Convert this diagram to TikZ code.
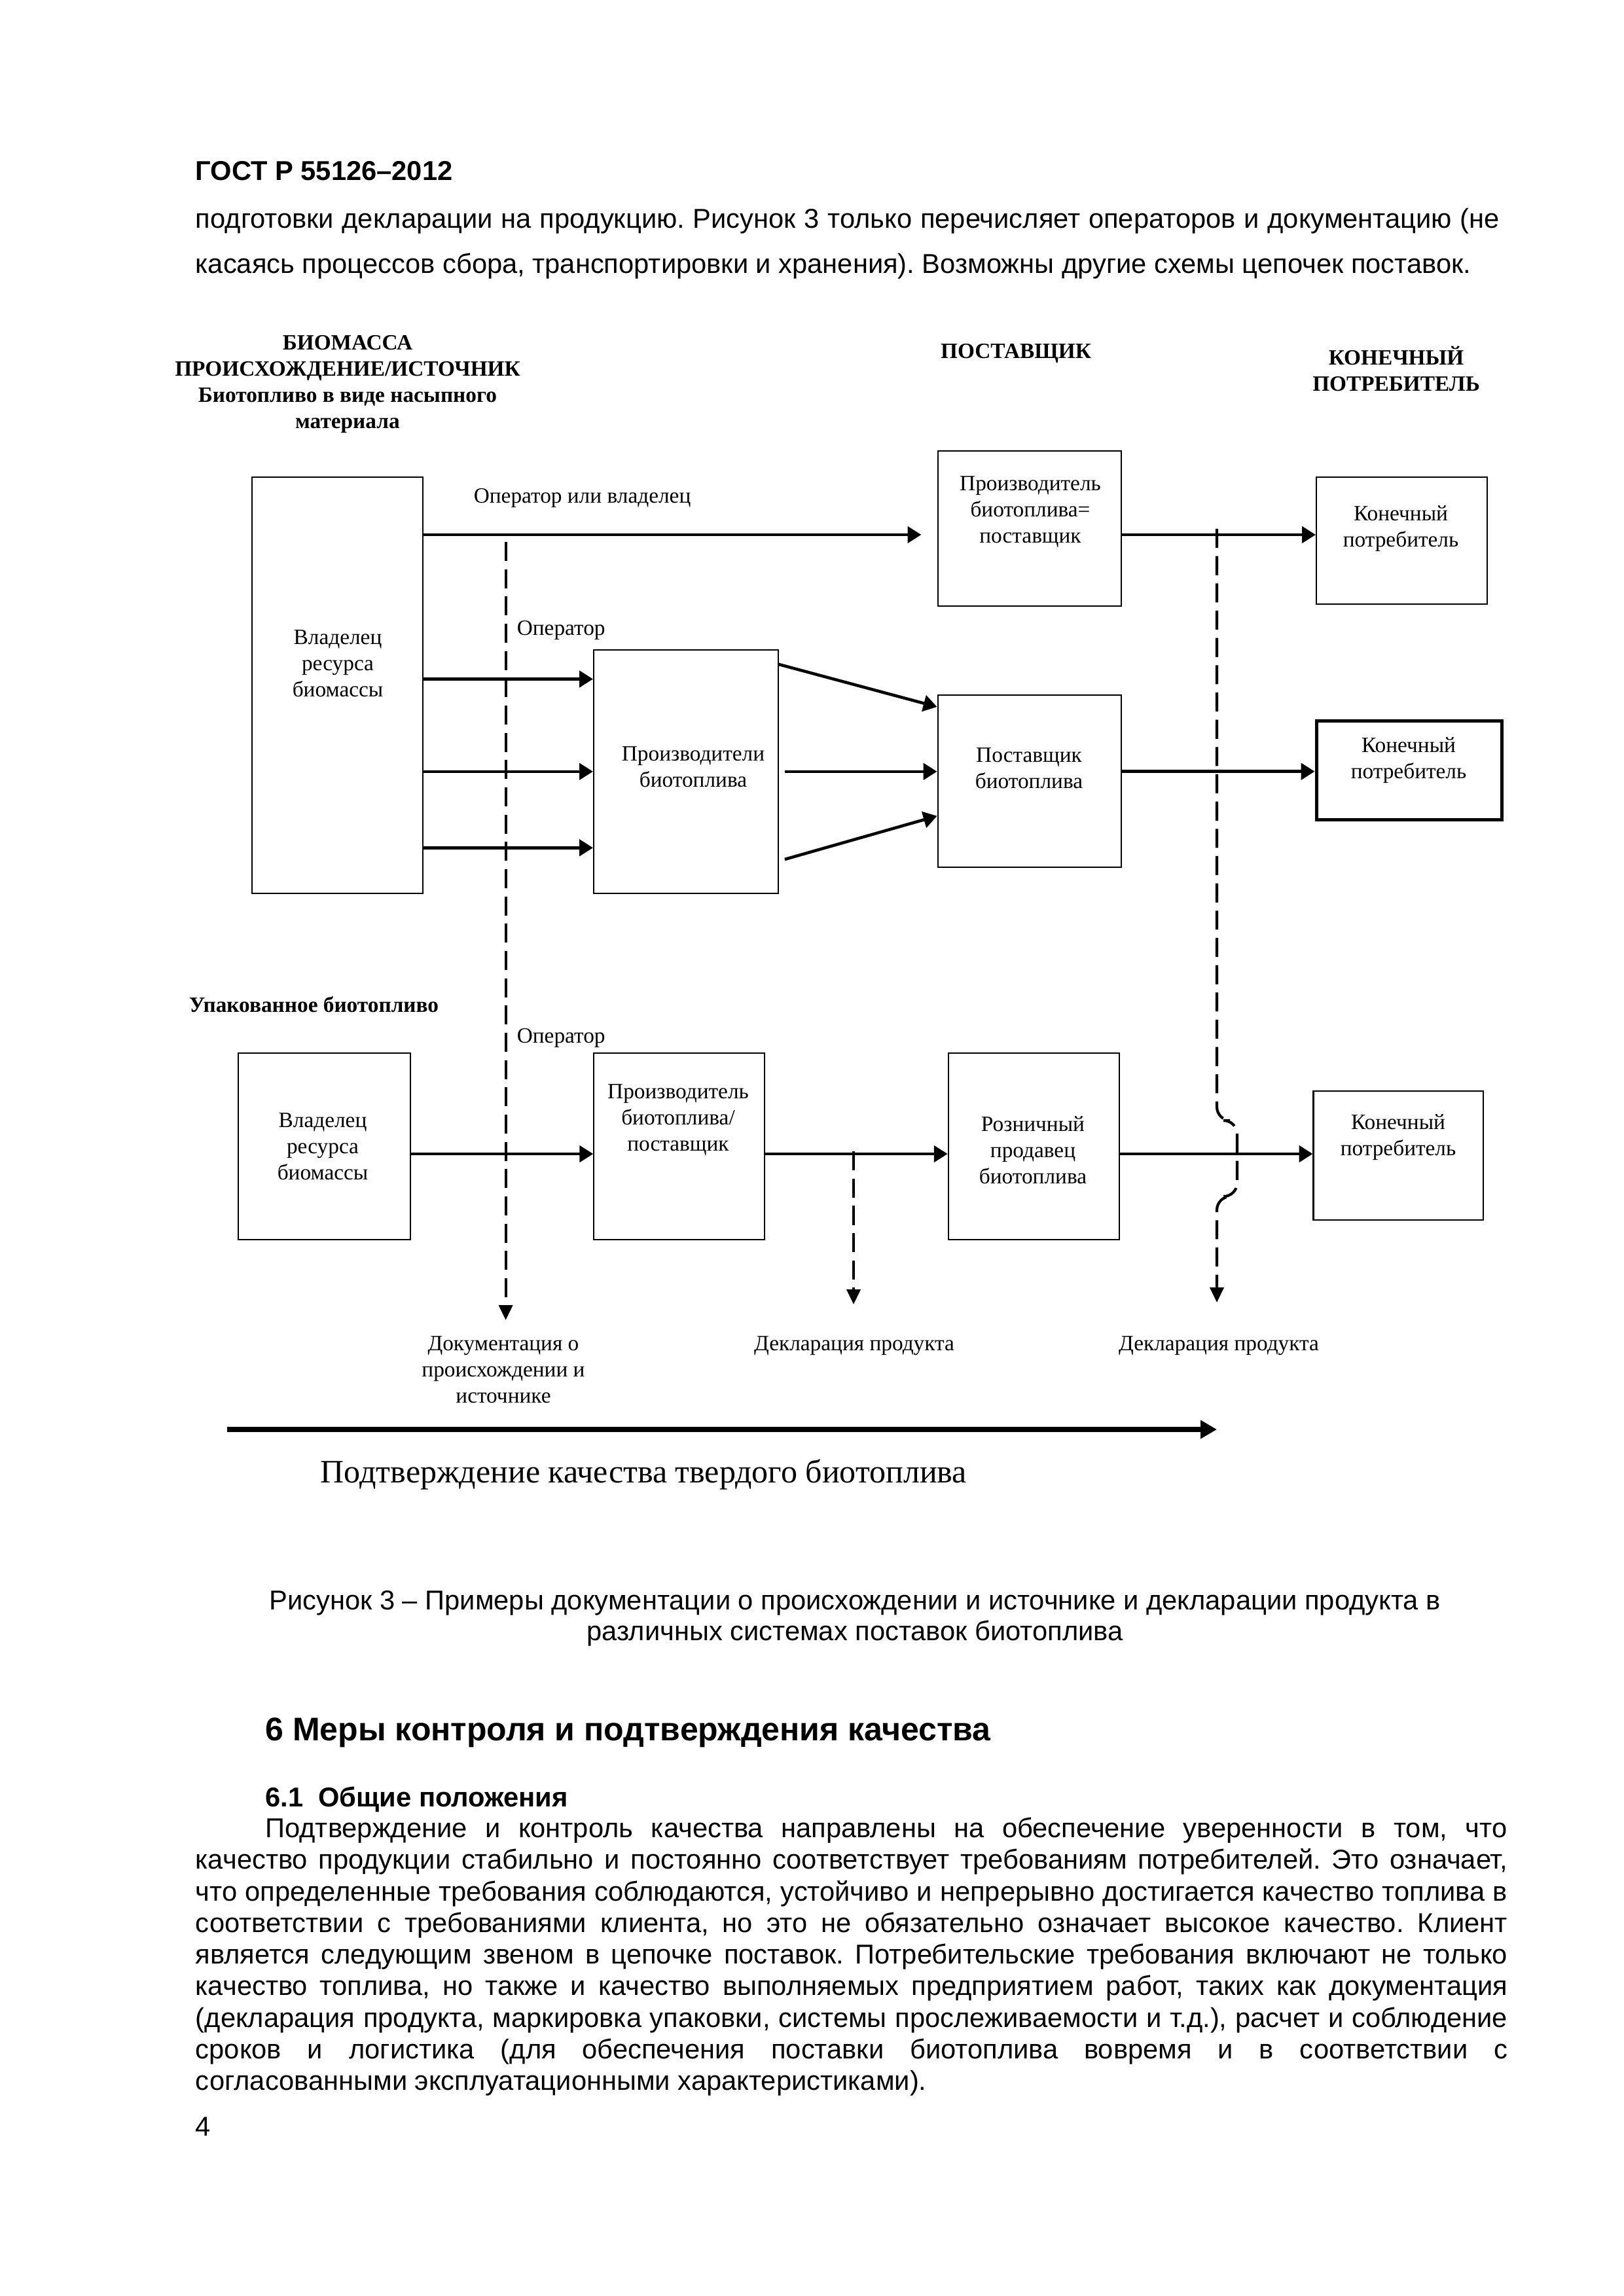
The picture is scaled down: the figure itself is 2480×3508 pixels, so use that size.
\documentclass[tikz,border=0pt]{standalone}
\usepackage{fontspec}
\setmainfont{Liberation Serif}
\newfontfamily\arialfont{Liberation Sans}
\usetikzlibrary{fit,arrows.meta}
\frenchspacing
\newcommand{\dfont}{\fontsize{8}{9.6}\selectfont}
\newcommand{\bfont}{\arialfont\fontsize{10}{11.5}\selectfont}
\tikzstyle{block}=[draw,line width=0.5pt,inner sep=0pt]
\tikzstyle{boxtext}=[font=\dfont,align=center,inner sep=0pt]
\tikzstyle{head}=[font=\dfont\bfseries,align=center,inner sep=0pt]
\tikzstyle{lbl}=[font=\dfont,anchor=base west,inner sep=0pt]
\tikzstyle{flow}=[line width=1.1pt,-{Triangle[length=5pt,width=6pt]}]
\tikzstyle{docline}=[line width=1pt,dash pattern=on 7pt off 3pt,-{Triangle[length=5.5pt,width=5pt]}]
\tikzstyle{quality}=[line width=1.85pt,-{Triangle[length=6pt,width=6.5pt]}]
\tikzstyle{body}=[font=\bfont,anchor=base west,inner sep=0pt]
\newcommand{\newBlock}[5]{\node[block,#5,fit={#2}](#1){};\node[boxtext](#1-t) at (#3){#4};}
\newcommand{\newFlow}[3]{\draw[flow,#3] (#1) -- (#2);}
\newcommand{\newTextLine}[4]{\node[body](#1) at (#2){\makebox[#3][s]{#4}};}
\begin{document}
\begin{tikzpicture}[x=0.24pt,y=-0.24pt]
        \useasboundingbox (0,0) rectangle (2480,3508);
        % page text above the figure
        \node[body,font=\arialfont\bfseries\fontsize{10}{11.5}\selectfont](gost) at (298,276){ГОСТ Р 55126–2012};
        \newTextLine{t1}{298,349}{478.1pt}{подготовки декларации на продукцию. Рисунок 3 только перечисляет операторов и документацию (не}
        \node[body](t2) at (298,418){касаясь процессов сбора, транспортировки и хранения). Возможны другие схемы цепочек поставок.};
        % column heads
        \node[head](hbio) at (531,587){БИОМАССА\\ПРОИСХОЖДЕНИЕ/ИСТОЧНИК\\Биотопливо в виде насыпного\\материала};
        \node[head,anchor=base](hsup) at (1552,548){ПОСТАВЩИК};
        \node[head](hend) at (2133,563){КОНЕЧНЫЙ\\ПОТРЕБИТЕЛЬ};
        \node[head,anchor=base west](hpack) at (288,1546){Упакованное биотопливо};
        % blocks
        \newBlock{own1}{(384.7,729) (646.4,1365)}{516,1014}{Владелец\\ресурса\\биомассы}{}
        \newBlock{gen1}{(1432.6,689) (1713,926)}{1574,782}{Производитель\\биотоплива=\\поставщик}{}
        \newBlock{end1}{(2011,729) (2272,923)}{2140,808}{Конечный\\потребитель}{}
        \newBlock{gens}{(907,993) (1188.6,1365)}{1059,1172}{Производители\\биотоплива}{}
        \newBlock{sup}{(1432.6,1062) (1713,1325)}{1572,1174}{Поставщик\\биотоплива}{}
        \newBlock{end2}{(2011,1101.7) (2294.4,1252.7)}{2152,1162}{Конечный\\потребитель}{line width=1.2pt}
        \newBlock{own2}{(364,1609) (626.7,1894)}{493,1752}{Владелец\\ресурса\\биомассы}{}
        \newBlock{gen2}{(907.3,1609) (1167.6,1894)}{1036,1711}{Производитель\\биотоплива/\\поставщик}{}
        \newBlock{shop}{(1448.7,1609) (1710,1894)}{1578,1757}{Розничный\\продавец\\биотоплива}{}
        \newBlock{end3}{(2006.5,1667) (2266,1864)}{2136,1738}{Конечный\\потребитель}{}
        \node[lbl](op0) at (723,769){Оператор или владелец};
        \node[lbl](op1) at (789,970){Оператор};
        \node[lbl](op2) at (789,1593){Оператор};
        % flows
        \newFlow{own1.east |- 0,817}{gen1.west |- 0,817}{shorten >=5.8pt}
        \newFlow{gen1.east |- 0,817}{end1.west |- 0,817}{}
        \foreach \y in {1037.5,1178.8,1295.3}{\newFlow{own1.east |- 0,\y}{gens.west |- 0,\y}{}}
        \newFlow{gens.east |- 0,1015}{sup.west |- 0,1080}{}
        \newFlow{gens.east |- 0,1178.8}{sup.west |- 0,1178.8}{shorten <=2.3pt}
        \newFlow{gens.east |- 0,1315.6}{sup.west |- 0,1246.7}{shorten <=2.3pt}
        \newFlow{sup.east |- 0,1178.7}{end2.west |- 0,1178.7}{}
        \newFlow{own2.east |- 0,1763}{gen2.west |- 0,1763}{}
        \newFlow{gen2.east |- 0,1763}{shop.west |- 0,1763}{}
        \newFlow{shop.east |- 0,1763}{end3.west |- 0,1763}{}
        % documentation lines
        \coordinate (d1s) at (772.6,828);
        \coordinate (d1e) at (772.6,2017);
        \coordinate (d2s) at (1304,1759);
        \coordinate (d2e) at (1304,1993);
        \coordinate (d3s) at (1859,808);
        \coordinate (j1) at (1859,1712);
        \coordinate (j2) at (1859,1828);
        \coordinate (d3e) at (1859,1990);
        \draw[docline] (d1s) -- (d1e);
        \draw[docline] (d2s) -- (d2e);
        \draw[docline,rounded corners=5pt] (d3s) -- (j1) -- ++(31,0) |- (j2) -- (d3e);
        \node[boxtext](doc0) at (769,2093){Документация о\\происхождении и\\источнике};
        \node[lbl,anchor=base](decl1) at (1305,2063){Декларация продукта};
        \node[lbl,anchor=base](decl2) at (1862,2063){Декларация продукта};
        % quality arrow
        \coordinate (qs) at (347,2184);
        \coordinate (qe) at (1859,2184);
        \draw[quality] (qs) -- (qe);
        \node[font=\fontsize{12}{14.4}\selectfont,anchor=base west,inner sep=0pt](qlbl) at (489,2265){Подтверждение качества твердого биотоплива};
        % caption and section text
        \node[body,anchor=base](cap1) at (1306,2459){Рисунок 3 – Примеры документации о происхождении и источнике и декларации продукта в};
        \node[body,anchor=base](cap2) at (1306,2506){различных системах поставок биотоплива};
        \node[body,font=\arialfont\bfseries\fontsize{12}{14}\selectfont](sec) at (404.6,2659){6 Меры контроля и подтверждения качества};
        \node[body,font=\arialfont\bfseries\fontsize{10}{11.5}\selectfont](subsec) at (404.6,2760){6.1\ \ Общие положения};
        \newTextLine{p1}{404.6,2807}{455.3pt}{Подтверждение и контроль качества направлены на обеспечение уверенности в том, что}
        \newTextLine{p2}{298,2855}{481pt}{качество продукции стабильно и постоянно соответствует требованиям потребителей. Это означает,}
        \newTextLine{p3}{298,2904}{481pt}{что определенные требования соблюдаются, устойчиво и непрерывно достигается качество топлива в}
        \newTextLine{p4}{298,2952}{481pt}{соответствии с требованиями клиента, но это не обязательно означает высокое качество. Клиент}
        \newTextLine{p5}{298,3000}{481pt}{является следующим звеном в цепочке поставок. Потребительские требования включают не только}
        \newTextLine{p6}{298,3048}{481pt}{качество топлива, но также и качество выполняемых предприятием работ, таких как документация}
        \newTextLine{p7}{298,3097}{481pt}{(декларация продукта, маркировка упаковки, системы прослеживаемости и т.д.), расчет и соблюдение}
        \newTextLine{p8}{298,3145}{481pt}{сроков и логистика (для обеспечения поставки биотоплива вовремя и в соответствии с}
        \node[body](p9) at (298,3193){согласованными эксплуатационными характеристиками).};
        \node[body](pnum) at (298,3263){4};
\end{tikzpicture}
\end{document}
